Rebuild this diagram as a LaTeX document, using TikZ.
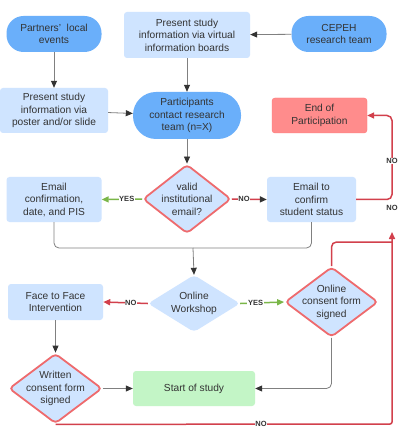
\documentclass[tikz,border=0pt]{standalone}
\usepackage{fontspec}
\setmainfont{Liberation Sans}
\usetikzlibrary{shapes.geometric,arrows.meta}
\definecolor{lblue}{HTML}{CFE4FF}
\definecolor{dblue}{HTML}{6AAFFA}
\definecolor{txtc}{HTML}{333333}
\definecolor{lgray}{HTML}{808080}
\definecolor{redl}{HTML}{D2404C}
\definecolor{redd}{HTML}{EE6B6E}
\definecolor{greenl}{HTML}{7AB648}
\definecolor{startg}{HTML}{C3F5C6}
\definecolor{endr}{HTML}{FF8C8C}
\tikzset{
  txt/.style={font=\fontsize{10.2}{12.5}\selectfont, text=txtc, align=center},
  pill/.style={txt, fill=dblue, rounded corners=17pt, inner sep=0pt},
  lbox/.style={txt, fill=lblue, rounded corners=3pt, inner sep=0pt},
  diam/.style={diamond, fill=lblue, draw=redd, line width=1.8pt, rounded corners=4pt, inner sep=0pt},
  bdiam/.style={diamond, fill=lblue, rounded corners=4pt, inner sep=0pt},
  gline/.style={draw=lgray, line width=0.8pt},
  garr/.style={gline, -{Triangle[length=7pt,width=6pt,color=txtc]}},
  rline/.style={draw=redl, line width=1.5pt},
  rarr/.style={rline, -{Triangle[length=7pt,width=6pt]}},
  grarr/.style={draw=greenl, line width=1.5pt, -{Triangle[length=7pt,width=6pt]}},
  lab/.style={font=\bfseries\fontsize{7.5}{8}\selectfont, text=txtc, fill=white, inner sep=0.6pt},
}
\begin{document}
\begin{tikzpicture}[x=1pt,y=-1pt]
\useasboundingbox (0,0) rectangle (415,435);
\fill[white] (0,0) rectangle (415,435);
% nodes
\node[pill, minimum width=95pt, minimum height=36pt] (partners) at (54,34) {Partners’\ \ local\\events};
\node[lbox, minimum width=126pt, minimum height=46pt] (boards) at (187,35) {Present study\\information via virtual\\information boards};
\node[pill, minimum width=95pt, minimum height=36pt] (cepeh) at (339,34) {CEPEH\\research team};
\node[lbox, minimum width=108pt, minimum height=45pt] (poster) at (54,110.5) {Present study\\information via\\poster and/or slide};
\node[pill, rounded corners=23pt, minimum width=108pt, minimum height=47pt] (part) at (187,115.5) {Participants\\contact research\\team (n=X)};
\node[txt, fill=endr, draw=endr!85!red, line width=0.4pt, rounded corners=3pt, inner sep=0pt, minimum width=95pt, minimum height=35pt] (end) at (319.5,115.5) {End of\\Participation};
\node[diam, minimum width=88pt, minimum height=69pt, label={[txt]center:valid\\institutional\\email?}] (valid) at (187,199) {};
\node[lbox, minimum width=95pt, minimum height=45pt] (econf) at (54,199.5) {Email\\confirmation,\\date, and PIS};
\node[lbox, minimum width=89pt, minimum height=45pt] (etc) at (311.5,199.5) {Email to\\confirm\\student status};
\node[bdiam, minimum width=92pt, minimum height=57pt, label={[txt]center:Online\\Workshop}] (work) at (194,303.5) {};
\node[lbox, minimum width=95pt, minimum height=36pt] (f2f) at (55.5,302) {Face to Face\\Intervention};
\node[diam, minimum width=93pt, minimum height=70pt, label={[txt]center:Online\\consent form\\signed}] (ocons) at (331.5,302) {};
\node[diam, minimum width=93pt, minimum height=70pt, label={[txt]center:Written\\consent form\\signed}] (written) at (55.5,388.5) {};
\node[txt, fill=startg, rounded corners=3pt, inner sep=0pt, minimum width=122pt, minimum height=35pt] (start) at (194,388.5) {Start of study};
% helper coordinates
\coordinate (mrg) at (193,248);
\coordinate (rt) at (392,115.5);
\coordinate (rb) at (392,424);
\coordinate (rup) at (392,232);
\coordinate (oc) at (392,242);
% gray connectors
\draw[garr] (partners) -- (poster);
\draw[garr] (boards) -- (part);
\draw[garr] (cepeh) -- (boards);
\draw[garr] (poster) -- (part);
\draw[garr] (part.south) -- (valid.north);
\draw[gline, rounded corners=5pt] (econf.south) |- (mrg);
\draw[gline, rounded corners=5pt] (etc.south) |- (mrg);
\draw[garr] (mrg) -- (work.north);
\draw[garr] (f2f.south) -- (written.north);
\draw[garr] (written.east) -- (start.west);
\draw[garr, rounded corners=5pt] (ocons.south) |- (start.east);
% decision connectors
\draw[grarr] (valid.west) -- node[lab, pos=0.38]{YES} (econf.east);
\draw[rline, -{Triangle[length=7pt,width=6pt,color=txtc]}] (valid.east) -- node[lab, pos=0.35]{NO} (etc.west);
\draw[rarr] (work.west) -- node[lab, pos=0.38]{NO} (f2f.east);
\draw[grarr] (work.east) -- node[lab, pos=0.35]{YES} (ocons.west);
% red NO loops
\draw[rarr, rounded corners=5pt] (etc.east) -| (rt) -- (end.east);
\node[lab] (no1) at (392,161) {NO};
\draw[rline, rounded corners=5pt] (ocons.north) |- (oc);
\draw[rarr, rounded corners=2pt] (written.south) -- (rb) -- (rup);
\node[lab] (no2) at (392,208) {NO};
\node[lab] (no3) at (261,424) {NO};
\end{tikzpicture}
\end{document}
